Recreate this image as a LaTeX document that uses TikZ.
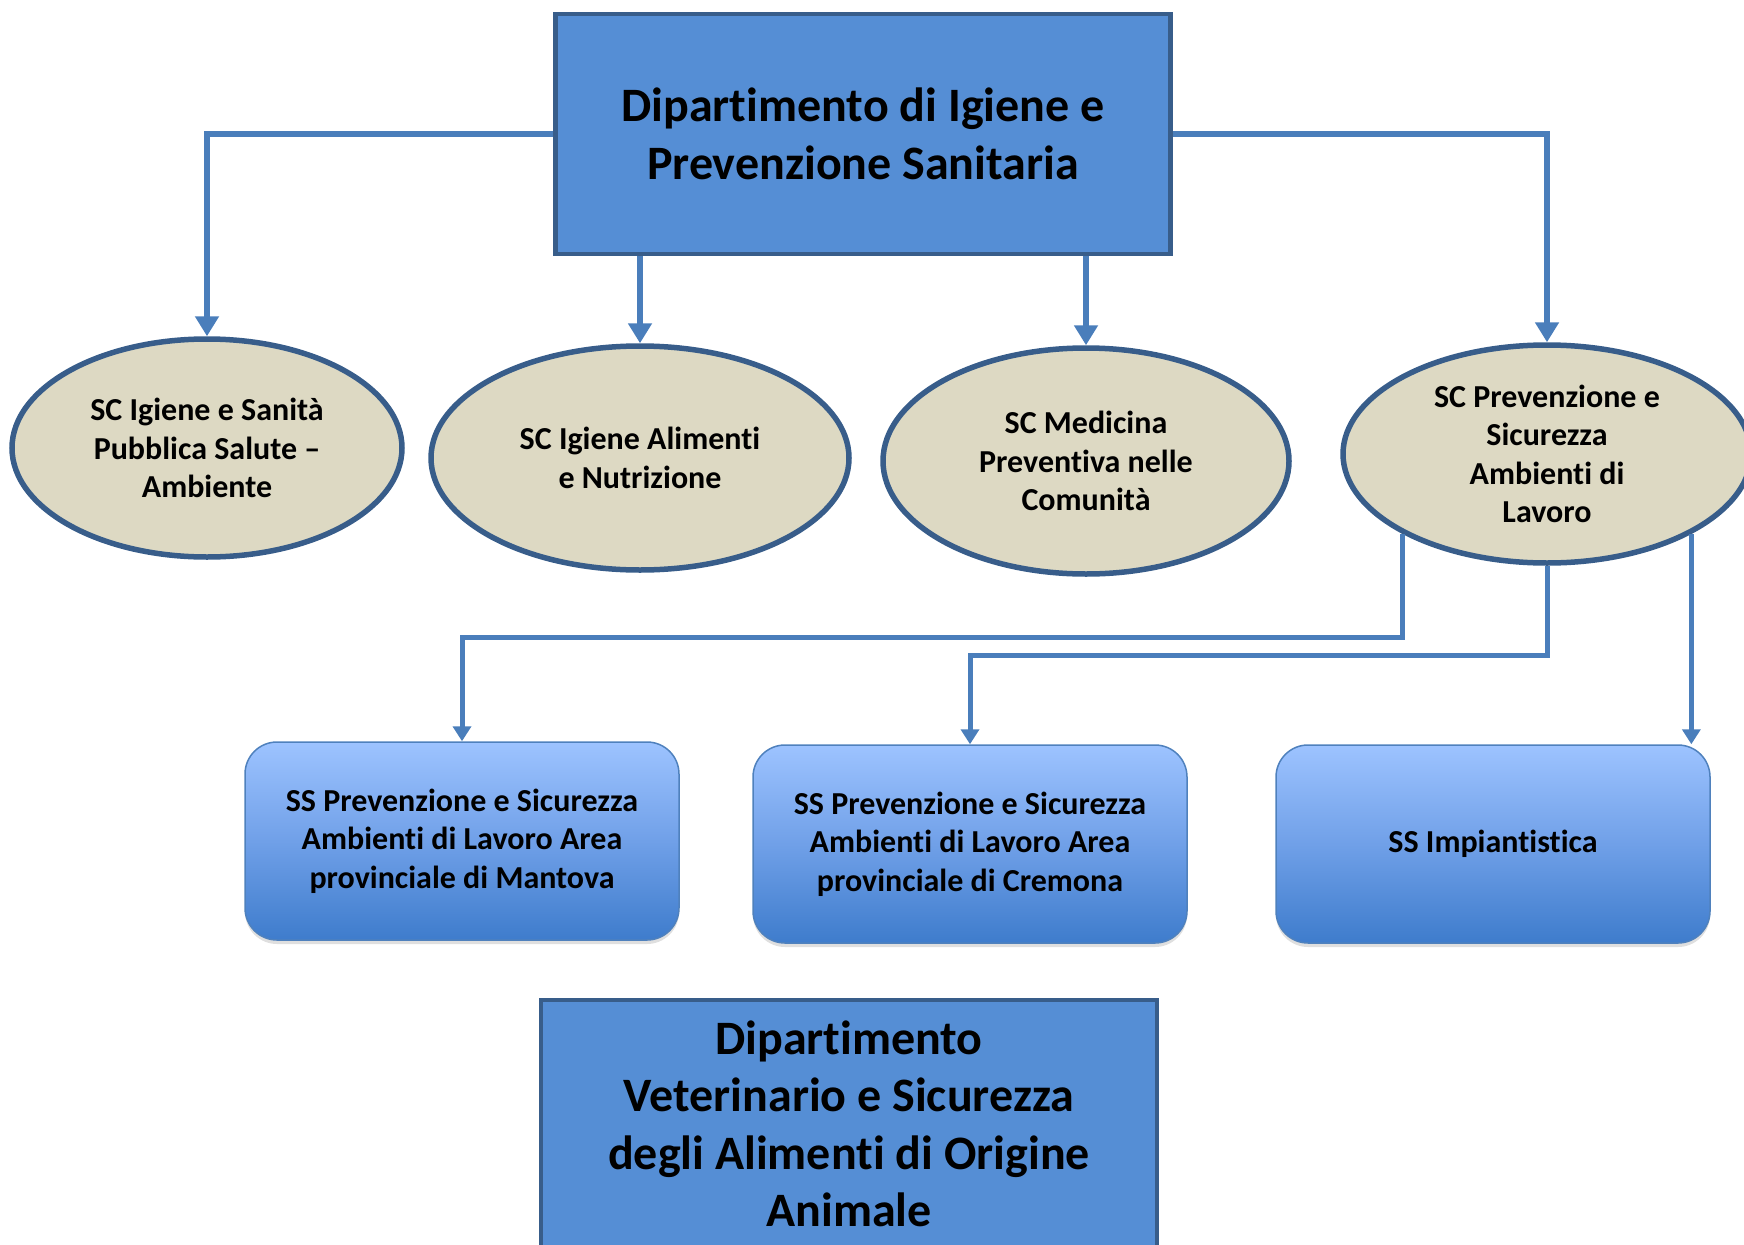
\documentclass[tikz,border=0pt]{standalone}
\usepackage{fontspec}
\setmainfont{Carlito}[Ligatures=NoCommon]
\usetikzlibrary{shapes.geometric,arrows.meta,shadows}

\definecolor{linkblue}{RGB}{74,126,187}
\definecolor{deptfill}{RGB}{85,142,213}
\definecolor{deptline}{RGB}{56,93,138}
\definecolor{scfill}{RGB}{221,217,195}
\definecolor{sstop}{RGB}{157,195,255}
\definecolor{ssmid}{RGB}{112,160,232}
\definecolor{ssbot}{RGB}{62,124,204}
\definecolor{ssline}{RGB}{79,129,189}

\begin{document}
\begin{tikzpicture}[x=1pt, y=-1pt,
    dept/.style={draw=deptline, line width=4.5pt, fill=deptfill, inner sep=0pt,
      align=center, font=\bfseries\fontsize{48}{57.5}\selectfont},
    sc/.style={ellipse, draw=deptline, line width=5.5pt, fill=scfill, inner sep=0pt,
      align=center, font=\bfseries\fontsize{32}{38.4}\selectfont},
    ss/.style={rounded corners=32pt, draw=ssline, line width=1.5pt,
      top color=sstop, bottom color=ssbot, middle color=ssmid,
      drop shadow={opacity=0.25, shadow xshift=0pt, shadow yshift=-4pt},
      minimum width=434pt, minimum height=198pt, inner sep=0pt,
      align=center, font=\bfseries\fontsize{32}{38.4}\selectfont},
    link/.style={draw=linkblue, line width=6pt, -{Triangle[width=23pt,length=20pt]}},
    sublink/.style={draw=linkblue, line width=5pt, -{Triangle[width=18pt,length=15pt]}}]
    \useasboundingbox (0,0) rectangle (1744,1244);

    % departments
    \node[dept, minimum width=615pt, minimum height=240pt] (dip) at (863,134)
      {Dipartimento di Igiene e\\Prevenzione Sanitaria};
    \node[dept, minimum width=616pt, minimum height=248pt] (vet) at (849,1124)
      {Dipartimento\\Veterinario e Sicurezza\\degli Alimenti di Origine\\Animale};

    % strutture complesse
    \node[sc, minimum width=390pt, minimum height=218pt] (sc1) at (207,448)
      {SC Igiene e Sanità\\Pubblica Salute –\\Ambiente};
    \node[sc, minimum width=418pt, minimum height=224pt] (sc2) at (640,458)
      {SC Igiene Alimenti\\e Nutrizione};
    \node[sc, minimum width=406pt, minimum height=226pt] (sc3) at (1086,461)
      {SC Medicina\\Preventiva nelle\\Comunità};
    \node[sc, minimum width=408pt, minimum height=218pt] (sc4) at (1547,454)
      {SC Prevenzione e\\Sicurezza\\Ambienti di\\Lavoro};

    % strutture semplici
    \node[ss] (ss1) at (462,841)
      {SS Prevenzione e Sicurezza\\Ambienti di Lavoro Area\\provinciale di Mantova};
    \node[ss] (ss2) at (970,844)
      {SS Prevenzione e Sicurezza\\Ambienti di Lavoro Area\\provinciale di Cremona};
    \node[ss] (ss3) at (1493,844) {SS Impiantistica};

    % connectors
    \draw[link] (dip.west) -| (sc1.north);
    \draw[link] (dip.south -| sc2.north) -- (sc2.north);
    \draw[link] (dip.south -| sc3.north) -- (sc3.north);
    \draw[link] (dip.east) -| (sc4.north);
    \draw[sublink] (sc4.209) -- ++(0,103) -| (ss1.north);
    \draw[sublink] (sc4.south) -- ++(0,90) -| (ss2.north);
    \draw[sublink] (sc4.331) -- (sc4.331 |- ss3.north);
\end{tikzpicture}
\end{document}
